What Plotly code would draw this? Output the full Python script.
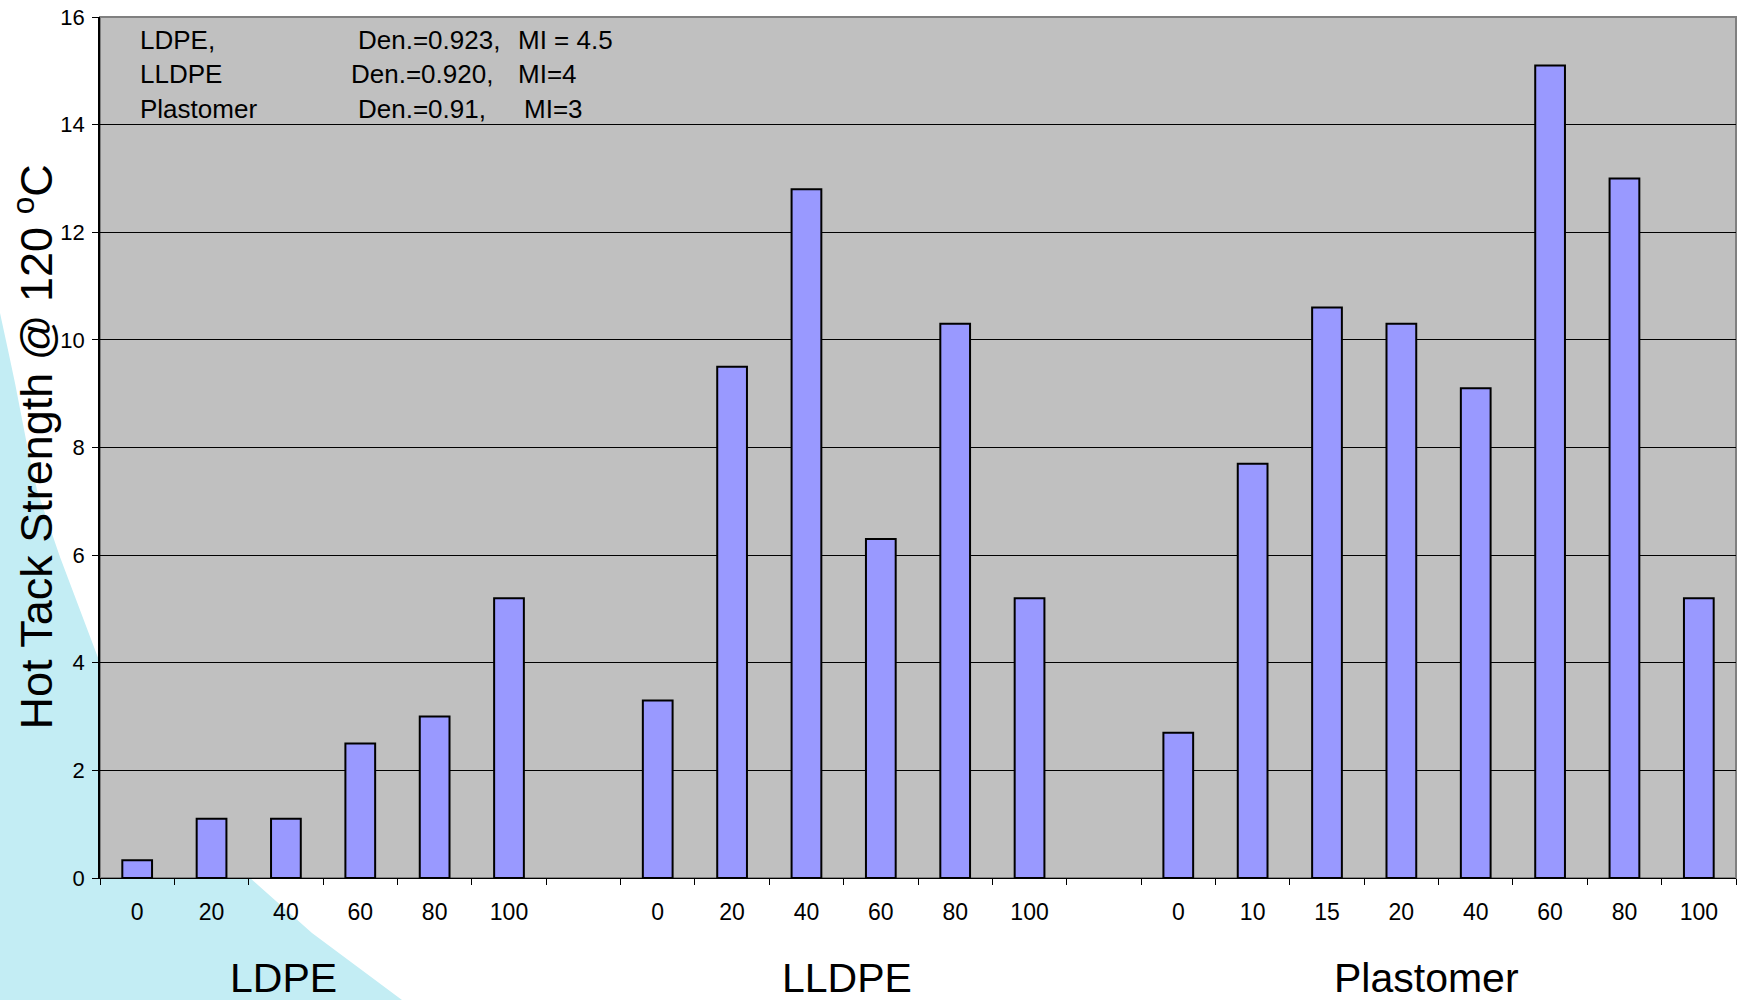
import plotly.graph_objects as go

# ---------------- data ----------------
groups = ["LDPE", "LLDPE", "Plastomer"]
ldpe_labels = ["0", "20", "40", "60", "80", "100"]
ldpe_values = [0.33, 1.1, 1.1, 2.5, 3.0, 5.2]
lldpe_labels = ["0", "20", "40", "60", "80", "100"]
lldpe_values = [3.3, 9.5, 12.8, 6.3, 10.3, 5.2]
plast_labels = ["0", "10", "15", "20", "40", "60", "80", "100"]
plast_values = [2.7, 7.7, 10.6, 10.3, 9.1, 15.1, 13.0, 5.2]
y_ticks = [0, 2, 4, 6, 8, 10, 12, 14, 16]
info_names = ["LDPE,", "LLDPE", "Plastomer"]
info_den = ["Den.=0.923,", "Den.=0.920,", "Den.=0.91,"]
info_mi = ["MI = 4.5", "MI=4", "MI=3"]

# ---------------- build categories ----------------
cats, ticktext, xs, ys = [], [], [], []
series = [(groups[0], ldpe_labels, ldpe_values),
          (groups[1], lldpe_labels, lldpe_values),
          (groups[2], plast_labels, plast_values)]
for gi, (g, labs, vals) in enumerate(series):
    for lab, v in zip(labs, vals):
        c = f"{g} {lab}"
        cats.append(c)
        ticktext.append(lab)
        xs.append(c)
        ys.append(v)
    if gi < len(series) - 1:
        c = f"gap{gi}"
        cats.append(c)
        ticktext.append(" ")

W, H = 1739, 1000
L, R, T, B = 100, 1736, 17, 878
PW, PH = R - L, B - T


def px(x):
    return (x - L) / PW


def py(y):
    return (B - y) / PH


FONT = "Liberation Sans, Arial, sans-serif"

fig = go.Figure()
fig.add_trace(go.Bar(
    x=xs, y=ys,
    marker=dict(color="#9999FF", line=dict(color="black", width=2)),
    showlegend=False,
))

# background cyan swoosh (decoration)
curve = [(0, 313), (8, 350), (15, 383), (28, 450), (37, 490), (60, 557),
         (100, 663), (150, 752), (200, 820), (250, 878), (312, 933),
         (402, 1000), (0, 1000)]
path = "M " + " L ".join(f"{px(a):.5f},{py(b):.5f}" for a, b in curve) + " Z"

shapes = [
    dict(type="path", path=path, xref="paper", yref="paper", layer="below",
         fillcolor="#C3EDF4", line=dict(width=0)),
    dict(type="rect", x0=0, x1=1, y0=0, y1=1, xref="paper", yref="paper",
         layer="below", fillcolor="#C0C0C0", line=dict(color="#808080", width=2)),
]

annotations = []
row_y = [39.7, 74, 108.7]
den_x = [356, 349, 356]
mi_x = [516, 516, 522]
for i in range(3):
    for txt, xx in ((info_names[i], 138), (info_den[i], den_x[i]), (info_mi[i], mi_x[i])):
        annotations.append(dict(text=txt, x=px(xx), y=py(row_y[i]), xref="paper", yref="paper",
                                xanchor="left", yanchor="middle", showarrow=False,
                                font=dict(family=FONT, size=26, color="black")))

group_x = [283, 847, 1426]
for g, gx in zip(groups, group_x):
    annotations.append(dict(text=g, x=px(gx), y=py(978), xref="paper", yref="paper",
                            xanchor="center", yanchor="middle", showarrow=False,
                            font=dict(family=FONT, size=41, color="black")))

annotations.append(dict(text="Hot Tack Strength @ 120 <sup>o</sup>C", x=px(33), y=0.5,
                        xref="paper", yref="paper", textangle=-90,
                        xanchor="center", yanchor="middle", showarrow=False,
                        font=dict(family=FONT, size=45, color="black")))

fig.update_layout(
    width=W, height=H,
    margin=dict(l=L, r=W - R, t=T, b=H - B, autoexpand=False),
    paper_bgcolor="white",
    plot_bgcolor="#C0C0C0",
    bargap=0.6,
    shapes=shapes,
    annotations=annotations,
    font=dict(family=FONT, color="black"),
)
fig.update_xaxes(
    type="category", categoryorder="array", categoryarray=cats,
    tickmode="array", tickvals=cats, ticktext=ticktext,
    range=[-0.5, len(cats) - 0.5],
    tickson="boundaries", ticks="outside", ticklen=6, tickwidth=1, tickcolor="black",
    showline=True, linecolor="black", linewidth=1,
    showgrid=False, zeroline=False,
    tickfont=dict(family=FONT, size=23, color="black"),
    ticklabelstandoff=13,
)
fig.update_yaxes(
    range=[0, 16], tickmode="array", tickvals=y_ticks,
    ticks="outside", ticklen=6, tickwidth=1, tickcolor="black",
    showline=True, linecolor="black", linewidth=1.5,
    showgrid=True, gridcolor="black", gridwidth=1,
    zeroline=False,
    tickfont=dict(family=FONT, size=22, color="black"),
    ticklabelstandoff=3,
)

fig.write_html("out.html")
